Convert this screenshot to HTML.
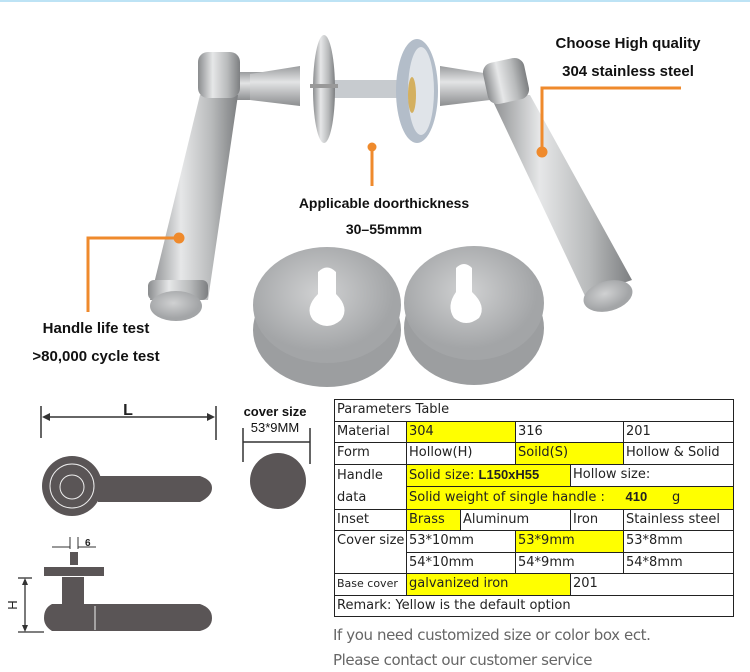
<!DOCTYPE html>
<html><head><meta charset="utf-8"><style>
body{margin:0;width:750px;height:672px;background:#fff;position:relative;overflow:hidden;font-family:"Liberation Sans",sans-serif}
.lbl{position:absolute;font-weight:bold;font-size:15px;color:#111;white-space:nowrap;transform:translateX(-50%)}
table{position:absolute;left:334px;top:399px;border-collapse:collapse;table-layout:fixed;width:399px;font-family:"DejaVu Sans","Liberation Sans",sans-serif;font-size:13px;color:#222}
td{border:1.5px solid #222;height:20.5px;padding:0 2px;white-space:nowrap;line-height:20px;overflow:hidden}
.y{background:#ffff00}
.foot{position:absolute;left:333px;font-size:15px;color:#666;font-family:"DejaVu Sans",sans-serif;letter-spacing:-0.4px}
</style></head><body>
<div style="position:absolute;left:0;top:0;width:750px;height:2px;background:#bde3f5"></div>
<svg width="750" height="395" style="position:absolute;left:0;top:0">
<defs>
<linearGradient id="m" x1="0" x2="1"><stop offset="0" stop-color="#8a8c8e"/><stop offset=".35" stop-color="#e6e7e8"/><stop offset=".7" stop-color="#b8babb"/><stop offset="1" stop-color="#7d7f81"/></linearGradient>
<linearGradient id="v" x1="0" y1="0" x2="0" y2="1"><stop offset="0" stop-color="#9a9c9e"/><stop offset=".4" stop-color="#e3e4e5"/><stop offset="1" stop-color="#8c8e90"/></linearGradient>
<radialGradient id="c" cx=".45" cy=".4"><stop offset="0" stop-color="#d0d1d2"/><stop offset="1" stop-color="#a3a5a7"/></radialGradient>
</defs>
<path d="M232 72 L300 72 L300 100 L232 100 Z" fill="url(#v)"/>
<path d="M250 74 L300 66 L300 106 L250 100 Z" fill="url(#v)"/>
<path d="M440 66 L490 74 L490 100 L440 106 Z" fill="url(#v)"/>
<rect x="330" y="80" width="85" height="18" fill="#c7cbcf"/>
<path d="M200 95 L238 95 L208 300 L150 300 Z" fill="url(#m)"/>
<rect x="148" y="280" width="60" height="20" rx="6" fill="url(#m)"/>
<ellipse cx="176" cy="306" rx="26" ry="15" fill="url(#c)"/>
<rect x="198" y="52" width="42" height="46" rx="10" fill="url(#m)"/>
<path d="M490 95 L530 95 L632 280 L585 296 Z" fill="url(#m)"/>
<ellipse cx="608" cy="296" rx="25" ry="15" fill="url(#c)" transform="rotate(-15 608 296)"/>
<rect x="485" y="60" width="42" height="42" rx="10" fill="url(#m)" transform="rotate(-12 506 81)"/>
<ellipse cx="324" cy="89" rx="11" ry="54" fill="url(#m)"/>
<rect x="310" y="84" width="28" height="4" fill="#999"/>
<ellipse cx="417" cy="91" rx="21" ry="52" fill="#b3bdc9"/>
<ellipse cx="421" cy="91" rx="13" ry="44" fill="#e0e4e9"/>
<ellipse cx="412" cy="95" rx="4" ry="18" fill="#d4b060"/>
<ellipse cx="327" cy="330" rx="74" ry="57" fill="#9c9ea0"/>
<ellipse cx="327" cy="305" rx="74" ry="58" fill="url(#c)"/>
<path d="M318 272 Q327 263 336 272 L336 294 Q350 308 341 320 Q327 332 313 320 Q304 308 318 294 Z" fill="#fff"/>
<ellipse cx="474" cy="328" rx="70" ry="57" fill="#9c9ea0"/>
<ellipse cx="474" cy="303" rx="70" ry="57" fill="url(#c)"/>
<path d="M456 268 Q464 260 472 268 L472 292 Q487 306 479 318 Q466 328 454 318 Q446 306 456 292 Z" fill="#fff"/>
<g stroke="#ef8a2c" stroke-width="3" fill="none">
<path d="M681 88 H542 V150"/><path d="M372 148 V186"/><path d="M88 312 V238 H178"/>
</g>
<g fill="#ef8a2c"><circle cx="542" cy="152" r="5.5"/><circle cx="372" cy="147" r="4.5"/><circle cx="179" cy="238" r="5.5"/></g>
</svg>
<div class="lbl" style="left:628px;top:35px">Choose High quality</div>
<div class="lbl" style="left:628px;top:63px">304 stainless steel</div>
<div class="lbl" style="left:384px;top:195px;font-size:14px">Applicable doorthickness</div>
<div class="lbl" style="left:384px;top:221px;font-size:14px">30–55mmm</div>
<div class="lbl" style="left:96px;top:320px">Handle life test</div>
<div class="lbl" style="left:96px;top:348px">&gt;80,000 cycle test</div>

<svg width="330" height="280" style="position:absolute;left:0;top:392px" font-family="Liberation Sans,sans-serif">
<g stroke="#333" stroke-width="1.5" fill="#333">
<line x1="41" y1="14" x2="41" y2="46"/><line x1="216" y1="14" x2="216" y2="48"/>
<line x1="44" y1="25" x2="213" y2="25"/>
<path d="M42 25 l8 -4 v8z M215 25 l-8 -4 v8z" stroke="none"/>
<line x1="243" y1="36" x2="243" y2="70"/><line x1="310" y1="36" x2="310" y2="72"/><line x1="243" y1="50" x2="310" y2="50"/>
</g>
<text x="128" y="23" font-size="16" fill="#222" font-weight="bold" text-anchor="middle">L</text>
<text x="275" y="24" font-size="13" fill="#111" font-weight="bold" text-anchor="middle">cover size</text>
<text x="275" y="40" font-size="13" fill="#111" text-anchor="middle">53*9MM</text>
<circle cx="278" cy="89" r="28" fill="#5a5556"/>
<circle cx="72" cy="94" r="30" fill="#5a5556"/>
<circle cx="72" cy="94" r="22" fill="none" stroke="#eee" stroke-width="1"/>
<circle cx="72" cy="95" r="12" fill="none" stroke="#eee" stroke-width="1"/>
<path d="M98 84 H200 Q212 88 212 96 Q212 104 200 110 H98 Z" fill="#5a5556"/>
<line x1="70" y1="145" x2="70" y2="157" stroke="#333"/><line x1="78" y1="145" x2="78" y2="157" stroke="#333"/>
<path d="M52 155 H70 M78 155 H96" stroke="#333"/>
<text x="85" y="154" font-size="10" font-weight="bold" fill="#222">6</text>
<rect x="70" y="160" width="8" height="13" fill="#5a5556"/>
<rect x="44" y="175" width="60" height="9" fill="#5a5556"/>
<rect x="62" y="185" width="22" height="28" fill="#5a5556"/>
<path d="M52 212 H200 Q212 216 212 226 Q212 236 200 239 H52 Q44 234 44 226 Q44 216 52 212Z" fill="#5a5556"/>
<line x1="95" y1="214" x2="95" y2="238" stroke="#eee"/>
<g stroke="#333" stroke-width="1.3"><line x1="18" y1="186" x2="32" y2="186"/><line x1="18" y1="240" x2="44" y2="240"/><line x1="25" y1="188" x2="25" y2="238"/></g>
<path d="M25 186 l-3 7 h6z M25 240 l-3 -7 h6z" fill="#333"/>
<text x="17" y="213" font-size="13" fill="#222" transform="rotate(-90 17 213)" text-anchor="middle">H</text>
</svg>

<table>
<colgroup><col style="width:72px"><col style="width:54px"><col style="width:55px"><col style="width:55px"><col style="width:53px"><col style="width:110px"></colgroup>
<tr><td colspan="6">Parameters Table</td></tr>
<tr><td>Material</td><td colspan="2" class="y">304</td><td colspan="2">316</td><td>201</td></tr>
<tr><td>Form</td><td colspan="2">Hollow(H)</td><td colspan="2" class="y">Soild(S)</td><td>Hollow &amp; Solid</td></tr>
<tr><td rowspan="2" style="vertical-align:top;line-height:22px">Handle<br>data</td><td colspan="3" class="y">Solid size: <b style="font-family:'Liberation Sans'">L150xH55</b></td><td colspan="2">Hollow size:</td></tr>
<tr><td colspan="5" class="y">Solid weight of single handle :&nbsp;&nbsp;&nbsp;&nbsp;&nbsp;<b style="font-family:'Liberation Sans'">410</b>&nbsp;&nbsp;&nbsp;&nbsp;&nbsp;&nbsp;g</td></tr>
<tr><td>Inset</td><td class="y">Brass</td><td colspan="2">Aluminum</td><td>Iron</td><td>Stainless steel</td></tr>
<tr><td rowspan="2" style="vertical-align:top">Cover size</td><td colspan="2">53*10mm</td><td colspan="2" class="y">53*9mm</td><td>53*8mm</td></tr>
<tr><td colspan="2">54*10mm</td><td colspan="2">54*9mm</td><td>54*8mm</td></tr>
<tr><td style="font-size:11px">Base cover</td><td colspan="3" class="y">galvanized iron</td><td colspan="2">201</td></tr>
<tr><td colspan="6">Remark: Yellow is the default option</td></tr>
</table>
<div class="foot" style="top:626px">If you need customized size or color box ect.</div>
<div class="foot" style="top:651px">Please contact our customer service</div>
</body></html>
